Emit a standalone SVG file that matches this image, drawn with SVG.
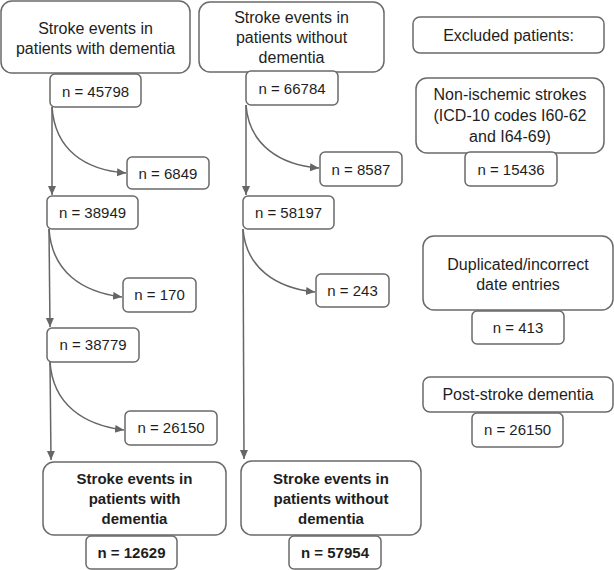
<svg xmlns="http://www.w3.org/2000/svg" width="614" height="570" viewBox="0 0 614 570">
<defs>
<marker id="ah" markerUnits="userSpaceOnUse" markerWidth="10" markerHeight="10" refX="9" refY="4" orient="auto">
<path d="M0,0 L9,4 L0,8 z" fill="#666"/>
</marker>
<style>
.big{fill:#fff;stroke:#6a6a6a;stroke-width:1.5}
.sm{fill:#fff;stroke:#6a6a6a;stroke-width:1.5}
text{font-family:"Liberation Sans",Arial,sans-serif;fill:#1e1e1e;text-anchor:middle}
.l{font-size:16px}
.n{font-size:15px}
.b{font-size:15px;font-weight:bold}
.c{fill:none;stroke:#666;stroke-width:1.5;marker-end:url(#ah)}
</style>
</defs>
<rect width="614" height="570" fill="#fff"/>
<g id="connectors">
<path class="c" d="M52,107 L52,195"/>
<path class="c" d="M52,107 C55,150 85,170 126,173"/>
<path class="c" d="M49,229 L50,327"/>
<path class="c" d="M49,229 C52,272 82,292 122,297"/>
<path class="c" d="M50,362 L51,460"/>
<path class="c" d="M50,362 C53,405 84,425 124,430"/>
<path class="c" d="M246,105 L246,195"/>
<path class="c" d="M246,105 C249,145 280,165 319,168"/>
<path class="c" d="M243,229 L244,459"/>
<path class="c" d="M243,229 C246,268 276,288 315,292"/>
</g>
<g id="hdr-dem"><rect class="big" x="1" y="1" width="189" height="72" rx="11"/>
<text class="l" x="95.5" y="34">Stroke events in</text><text class="l" x="95.5" y="54">patients with dementia</text></g>
<g id="hdr-nodem"><rect class="big" x="199" y="2" width="185" height="70" rx="11"/>
<text class="l" x="291.5" y="23">Stroke events in</text><text class="l" x="291.5" y="43">patients without</text><text class="l" x="291.5" y="63">dementia</text></g>
<g id="n45798"><rect class="sm" x="50" y="74" width="91" height="33" rx="5"/><text class="n" x="95.5" y="97">n = 45798</text></g>
<g id="n6849"><rect class="sm" x="127" y="157" width="82" height="32" rx="5"/><text class="n" x="168" y="179">n = 6849</text></g>
<g id="n38949"><rect class="sm" x="47" y="196" width="91" height="33" rx="5"/><text class="n" x="92.5" y="218">n = 38949</text></g>
<g id="n170"><rect class="sm" x="123" y="278" width="73" height="34" rx="5"/><text class="n" x="159.5" y="300">n = 170</text></g>
<g id="n38779"><rect class="sm" x="47" y="328" width="92" height="34" rx="5"/><text class="n" x="93" y="350">n = 38779</text></g>
<g id="n26150a"><rect class="sm" x="125" y="411" width="92" height="34" rx="5"/><text class="n" x="171" y="433">n = 26150</text></g>
<g id="final-dem"><rect class="big" x="43" y="462" width="183" height="73" rx="11"/>
<text class="b" x="134.5" y="484">Stroke events in</text><text class="b" x="134.5" y="504">patients with</text><text class="b" x="134.5" y="524">dementia</text></g>
<g id="n12629"><rect class="sm" x="86" y="536" width="91" height="33" rx="5"/><text class="b" x="131.5" y="558">n = 12629</text></g>
<g id="n66784"><rect class="sm" x="246" y="71" width="92" height="34" rx="5"/><text class="n" x="292" y="94">n = 66784</text></g>
<g id="n8587"><rect class="sm" x="320" y="152" width="82" height="34" rx="5"/><text class="n" x="361" y="175">n = 8587</text></g>
<g id="n58197"><rect class="sm" x="243" y="196" width="91" height="33" rx="5"/><text class="n" x="288.5" y="218">n = 58197</text></g>
<g id="n243"><rect class="sm" x="316" y="274" width="73" height="33" rx="5"/><text class="n" x="352.5" y="296">n = 243</text></g>
<g id="final-nodem"><rect class="big" x="241" y="461" width="180" height="74" rx="11"/>
<text class="b" x="331" y="484">Stroke events in</text><text class="b" x="331" y="504">patients without</text><text class="b" x="331" y="524">dementia</text></g>
<g id="n57954"><rect class="sm" x="289" y="536" width="92" height="33" rx="5"/><text class="b" x="335" y="558">n = 57954</text></g>
<g id="excluded"><rect class="sm" x="413" y="17" width="191" height="36" rx="7"/><text class="l" x="508.5" y="41">Excluded patients:</text></g>
<g id="nonisch"><rect class="big" x="416" y="78" width="188" height="75" rx="11"/>
<text class="l" x="510" y="100">Non-ischemic strokes</text><text class="l" x="510" y="121">(ICD-10 codes I60-62</text><text class="l" x="510" y="142">and I64-69)</text></g>
<g id="n15436"><rect class="sm" x="465" y="152" width="92" height="34" rx="5"/><text class="n" x="511" y="175">n = 15436</text></g>
<g id="dup"><rect class="big" x="423" y="236" width="190" height="74" rx="11"/>
<text class="l" x="518" y="270">Duplicated/incorrect</text><text class="l" x="518" y="290">date entries</text></g>
<g id="n413"><rect class="sm" x="472" y="311" width="92" height="33" rx="5"/><text class="n" x="518" y="333">n = 413</text></g>
<g id="poststroke"><rect class="sm" x="423" y="377" width="190" height="35" rx="7"/><text class="l" x="518" y="400">Post-stroke dementia</text></g>
<g id="n26150b"><rect class="sm" x="472" y="413" width="91" height="34" rx="5"/><text class="n" x="517.5" y="435">n = 26150</text></g>
</svg>
